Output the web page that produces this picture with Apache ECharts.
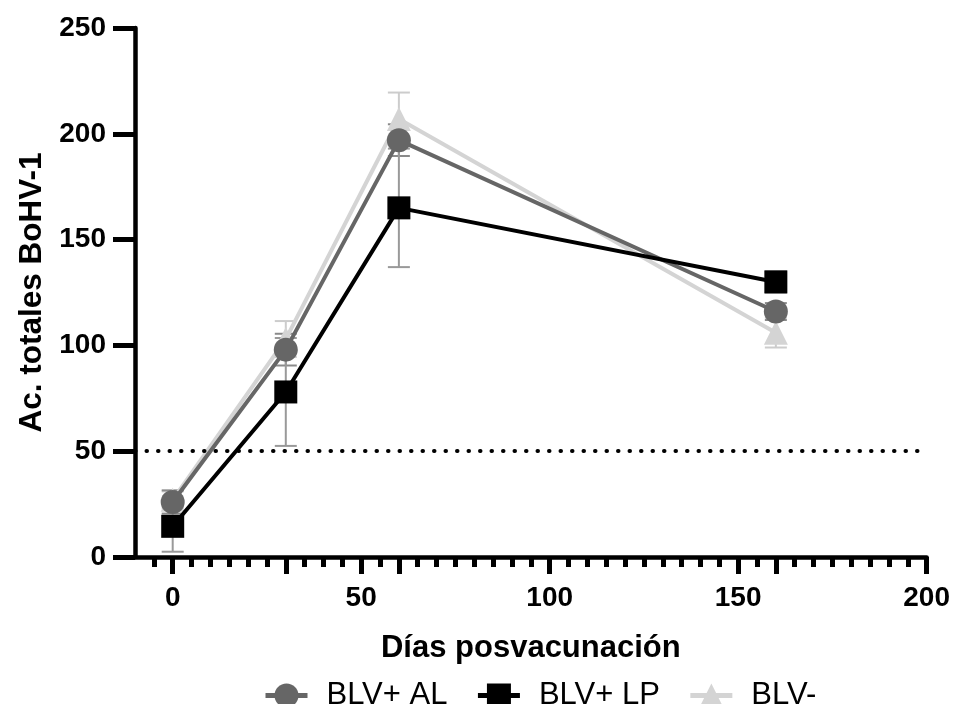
<!DOCTYPE html>
<html>
<head>
<meta charset="utf-8">
<script src="https://cdn.jsdelivr.net/npm/echarts@6/dist/echarts.min.js"></script>
<style>
html,body{margin:0;padding:0;background:#fff;}
#c{width:953px;height:704px;}
</style>
</head>
<body>
<div id="c"></div>
<script>
// ---- data ----
const days = [0, 30, 60, 160];
const seriesNames = ['BLV+ AL', 'BLV+ LP', 'BLV-'];
const alMean = [26, 98, 197, 116];
const alSem = [5.5, 7.5, 7.5, 4];
const lpMean = [14.5, 78, 165, 130];
const lpSem = [12, 25.5, 28, 5];
const negMean = [27, 103, 207, 106];
const negSem = [4, 8.5, 12.5, 7];
const xLabelValues = [0, 50, 100, 150, 200];
const xMajorTickValues = [0, 30, 50, 60, 100, 150, 160, 200];
const yTicks = [0, 50, 100, 150, 200, 250];
const refLineValue = 50;
const refLineX = [-10, 198];
const xRange = [-10, 200];

const FONT = 'Liberation Sans';
const colAL = '#666666', colLP = '#000000', colNEG = '#d4d4d4';

function pairs(m) { return days.map((d, i) => [d, m[i]]); }
function errData(m, s) { return days.map((d, i) => [d, m[i], s[i]]); }

function errSeries(m, s, color) {
  return {
    type: 'custom',
    xAxisIndex: 0, yAxisIndex: 0,
    z: 1,
    silent: true,
    data: errData(m, s),
    renderItem: function (params, api) {
      const x = api.value(0), mean = api.value(1), sem = api.value(2);
      const top = api.coord([x, mean + sem]);
      const bot = api.coord([x, mean - sem]);
      const hw = 11;
      const st = { stroke: color, lineWidth: 2 };
      return {
        type: 'group',
        children: [
          { type: 'line', shape: { x1: top[0], y1: top[1], x2: bot[0], y2: bot[1] }, style: st },
          { type: 'line', shape: { x1: top[0] - hw, y1: top[1], x2: top[0] + hw, y2: top[1] }, style: st },
          { type: 'line', shape: { x1: bot[0] - hw, y1: bot[1], x2: bot[0] + hw, y2: bot[1] }, style: st }
        ]
      };
    }
  };
}

const minorTicks = [];
for (let v = xRange[0] + 5; v < xRange[1]; v += 5) minorTicks.push(v);

const chart = echarts.init(document.getElementById('c'));
chart.setOption({
  animation: false,
  backgroundColor: '#fff',
  grid: { left: 135, right: 24, top: 28, bottom: 147, containLabel: false },
  xAxis: [
    {
      type: 'value', min: xRange[0], max: xRange[1],
      name: 'Días posvacunación', nameLocation: 'middle', nameGap: 76,
      nameTextStyle: { fontFamily: FONT, fontWeight: 'bold', fontSize: 31, color: '#000' },
      axisLine: { show: true, onZero: false, lineStyle: { color: '#000', width: 4.5 } },
      axisTick: { show: true, length: 17, lineStyle: { color: '#000', width: 5 }, customValues: xMajorTickValues },
      axisLabel: { show: true, margin: 27, fontFamily: FONT, fontWeight: 'bold', fontSize: 28, color: '#000', customValues: xLabelValues },
      splitLine: { show: false }
    },
    {
      type: 'value', min: xRange[0], max: xRange[1], position: 'bottom',
      axisLine: { show: false, onZero: false },
      axisTick: { show: true, length: 10, lineStyle: { color: '#000', width: 5 }, customValues: minorTicks },
      axisLabel: { show: false },
      splitLine: { show: false }
    }
  ],
  yAxis: {
    type: 'value', min: 0, max: 250,
    name: 'Ac. totales BoHV-1', nameLocation: 'middle', nameGap: 87,
    nameTextStyle: { fontFamily: FONT, fontWeight: 'bold', fontSize: 31.5, color: '#000' },
    axisLine: { show: true, onZero: false, lineStyle: { color: '#000', width: 4.5 } },
    axisTick: { show: true, length: 22, lineStyle: { color: '#000', width: 5 }, customValues: yTicks },
    axisLabel: { show: true, margin: 29, fontFamily: FONT, fontWeight: 'bold', fontSize: 28, color: '#000', customValues: yTicks },
    splitLine: { show: false }
  },
  legend: {
    data: seriesNames,
    left: 258, top: 675,
    itemWidth: 42, itemHeight: 30, itemGap: 28,
    lineStyle: { width: 5 },
    textStyle: { fontFamily: FONT, fontSize: 31, color: '#000', padding: [0, 0, 0, 14] }
  },
  series: [
    errSeries(negMean, negSem, '#cccccc'),
    errSeries(alMean, alSem, '#8a8a8a'),
    errSeries(lpMean, lpSem, '#999999'),
    {
      name: 'BLV-', type: 'line', z: 3, data: pairs(negMean),
      symbol: 'triangle', symbolSize: 24,
      lineStyle: { color: colNEG, width: 4 },
      itemStyle: { color: colNEG, borderWidth: 0 }
    },
    {
      name: 'BLV+ AL', type: 'line', z: 4, data: pairs(alMean),
      symbol: 'circle', symbolSize: 24,
      lineStyle: { color: colAL, width: 4 },
      itemStyle: { color: colAL, borderWidth: 0 },
      markLine: {
        silent: true, symbol: 'none', label: { show: false },
        lineStyle: { color: '#000', width: 4, type: [0.5, 11], cap: 'round' },
        data: [[{ coord: [refLineX[0], refLineValue] }, { coord: [refLineX[1], refLineValue] }]]
      }
    },
    {
      name: 'BLV+ LP', type: 'line', z: 5, data: pairs(lpMean),
      symbol: 'rect', symbolSize: 23,
      lineStyle: { color: colLP, width: 4 },
      itemStyle: { color: colLP, borderWidth: 0 }
    }
  ]
});
</script>
</body>
</html>
